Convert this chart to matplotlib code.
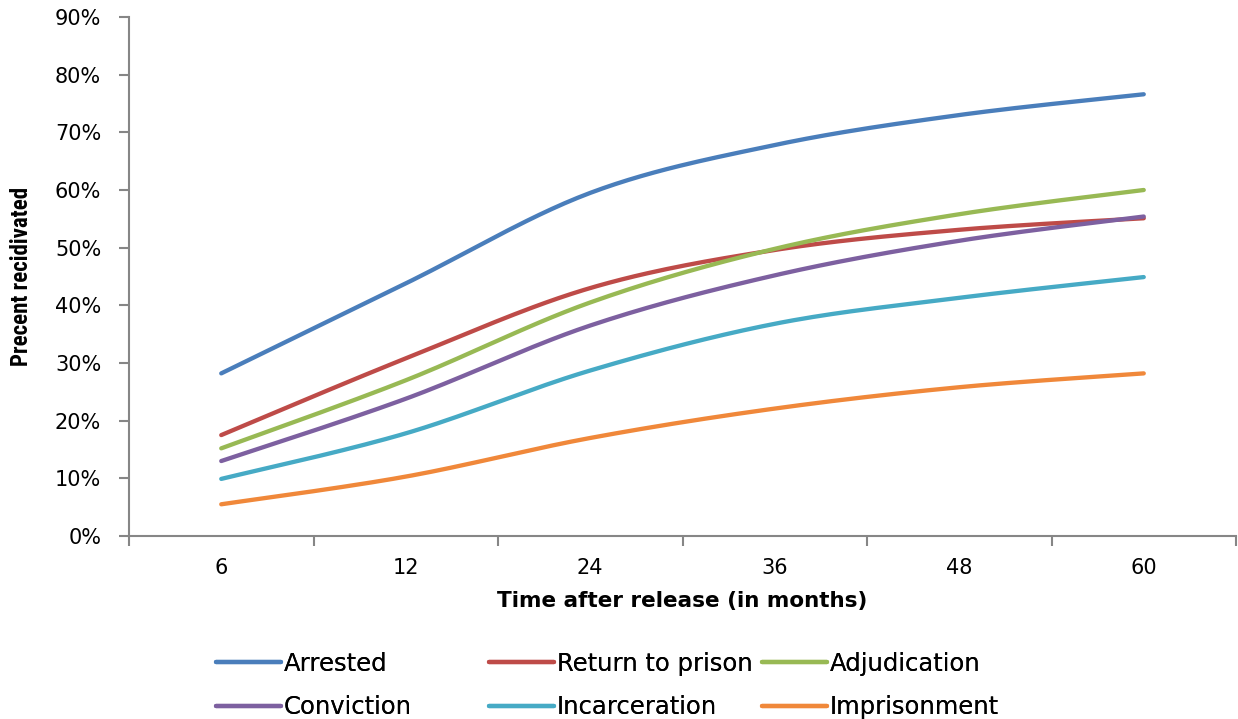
import numpy as np
import matplotlib.pyplot as plt
from matplotlib.ticker import PercentFormatter

months = ["6", "12", "24", "36", "48", "60"]

arrested = [28.2, 43.8, 59.5, 67.8, 73.0, 76.6]
return_to_prison = [17.5, 30.8, 43.0, 49.6, 53.1, 55.1]
adjudication = [15.2, 27.0, 40.5, 49.8, 55.8, 60.0]
conviction = [13.0, 23.8, 36.5, 45.2, 51.2, 55.4]
incarceration = [9.9, 17.8, 28.7, 36.8, 41.3, 44.9]
imprisonment = [5.5, 10.3, 17.0, 22.1, 25.8, 28.2]

series = [
    ("Arrested", arrested, "#4A7EBB"),
    ("Return to prison", return_to_prison, "#BE4B48"),
    ("Adjudication", adjudication, "#98B954"),
    ("Conviction", conviction, "#7D60A0"),
    ("Incarceration", incarceration, "#46AAC5"),
    ("Imprisonment", imprisonment, "#F0883A"),
]


def smooth(x, y, n=30):
    """Excel-style smoothed line (Catmull-Rom through every point)."""
    x = np.asarray(x, float)
    y = np.asarray(y, float)
    px = np.concatenate([[x[0]], x, [x[-1]]])
    py = np.concatenate([[y[0]], y, [y[-1]]])
    xs, ys = [], []
    for i in range(1, len(px) - 2):
        p0, p1, p2, p3 = (np.array([px[j], py[j]]) for j in range(i - 1, i + 3))
        c1 = p1 + (p2 - p0) / 6
        c2 = p2 - (p3 - p1) / 6
        t = np.linspace(0, 1, n)[:, None]
        b = ((1 - t) ** 3 * p1 + 3 * (1 - t) ** 2 * t * c1
             + 3 * (1 - t) * t ** 2 * c2 + t ** 3 * p2)
        xs.extend(b[:, 0])
        ys.extend(b[:, 1])
    return xs, ys


fig = plt.figure(figsize=(12.38, 7.19), dpi=100)
ax = fig.add_axes([129 / 1238, 183 / 719, 1107 / 1238, 519 / 719])

pos = np.arange(len(months))
lines = {}
for name, vals, color in series:
    sx, sy = smooth(pos, vals)
    (ln,) = ax.plot(sx, sy, color=color, linewidth=3.1, solid_capstyle="round",
                    label=name)
    lines[name] = ln

ax.set_xlim(-0.5, len(months) - 0.5)
ax.set_ylim(0, 90)
ax.set_yticks(np.arange(0, 91, 10))
ax.yaxis.set_major_formatter(PercentFormatter(decimals=0))
ax.set_xticks(pos)
ax.set_xticklabels(months)
ax.set_xticks(np.arange(-0.5, len(months)), minor=True)

for side in ("top", "right"):
    ax.spines[side].set_visible(False)
for side in ("left", "bottom"):
    ax.spines[side].set_color("#868686")
    ax.spines[side].set_linewidth(1.5)

ax.tick_params(axis="y", length=7, width=1.5, color="#868686",
               labelsize=15, pad=13)
ax.tick_params(axis="x", which="major", length=0, labelsize=15, pad=16)
ax.tick_params(axis="x", which="minor", length=7, width=1.5, color="#868686")
for lab in ax.get_yticklabels() + ax.get_xticklabels():
    lab.set_family("DejaVu Sans")

ax.set_xlabel("Time after release (in months)", fontsize=15.5,
              fontweight="bold", family="DejaVu Sans")
ax.xaxis.set_label_coords(0.5, -(601 - 536) / 519)
ax.xaxis.label.set_verticalalignment("center")

ax.set_ylabel("Precent recidivated", fontsize=16.5, fontweight="bold",
              family=["Roboto Condensed", "Liberation Sans Narrow", "Lato"])
ax.yaxis.set_label_coords(-(129 - 22) / 1107, 0.5)
ax.yaxis.label.set_verticalalignment("center")
ax.yaxis.label.set_horizontalalignment("center")

# Legend laid out in fixed-width columns, like the original
cols = [["Arrested", "Conviction"],
        ["Return to prison", "Incarceration"],
        ["Adjudication", "Imprisonment"]]
xs = [194, 467, 740]
for names, x0 in zip(cols, xs):
    leg = fig.legend([lines[n] for n in names], names,
                     loc="upper left", bbox_to_anchor=(x0 / 1238, 1 - 630 / 719),
                     frameon=False, handlelength=2.67, handletextpad=0.12,
                     labelspacing=0.8, prop={"family": "DejaVu Sans", "size": 17.5})
    fig.add_artist(leg)

fig.savefig("out.png", dpi=100)
